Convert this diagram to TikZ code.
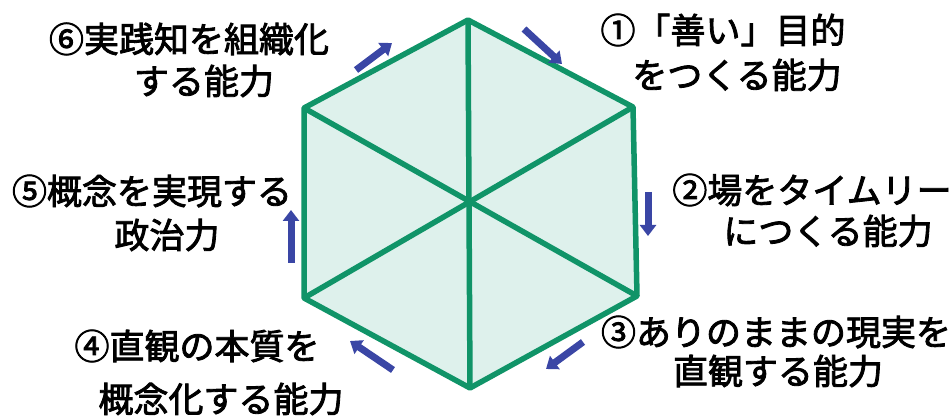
\documentclass[tikz,border=0pt]{standalone}
\usepackage{fontspec}
\newfontfamily\jp{Noto Sans CJK JP}[FakeBold=2.4]
\usetikzlibrary{arrows.meta}
\definecolor{hexgreen}{RGB}{16,148,104}
\definecolor{hexfill}{RGB}{222,241,236}
\definecolor{arrblue}{RGB}{58,70,165}
\tikzset{
  hexline/.style={draw=hexgreen,line width=5.5pt,line join=round},
  flowarrow/.style={draw=arrblue,line width=7pt,-{Triangle[length=11pt,width=16pt]}},
  lbl/.style={inner sep=0pt,anchor=center,font=\jp\fontsize{35}{38}\selectfont}
}
\begin{document}
\begin{tikzpicture}[x=1pt,y=-1pt]
\useasboundingbox (0,0) rectangle (952,419);
% hexagon vertices
\coordinate (T)  at (468,20);
\coordinate (UR) at (633,107);
\coordinate (LR) at (637,296);
\coordinate (B)  at (470,388);
\coordinate (LL) at (304,298);
\coordinate (UL) at (304,108);
\coordinate (C)  at (468,206);
\fill[hexfill] (T) -- (UR) -- (LR) -- (B) -- (LL) -- (UL) -- cycle;
\draw[hexline] (UL) -- (LR);
\draw[hexline] (UR) -- (LL);
\draw[hexline] (T) -- (B);
\draw[hexline] (T) -- (UR) -- (LR) -- (B) -- (LL) -- (UL) -- cycle;
% arrows
\coordinate (a1s) at (356,70);  \coordinate (a1e) at (392,43);
\coordinate (a2s) at (524,29);  \coordinate (a2e) at (562,64);
\coordinate (a3s) at (648,192); \coordinate (a3e) at (648,236);
\coordinate (a4s) at (583,342); \coordinate (a4e) at (546,369);
\coordinate (a5s) at (393,370); \coordinate (a5e) at (350,341);
\coordinate (a6s) at (291,263); \coordinate (a6e) at (291,210);
\draw[flowarrow] (a1s) -- (a1e);
\draw[flowarrow] (a2s) -- (a2e);
\draw[flowarrow] (a3s) -- (a3e);
\draw[flowarrow] (a4s) -- (a4e);
\draw[flowarrow] (a5s) -- (a5e);
\draw[flowarrow] (a6s) -- (a6e);
% labels
\node[lbl] (l6a) at (189,39)  {⑥実践知を組織化};
\node[lbl] (l6b) at (204,81)  {する能力};
\node[lbl] (l1a) at (723,30)  {①「善い」目的};
\node[lbl] (l1b) at (737,75)  {をつくる能力};
\node[lbl] (l2a) at (812,190) {②場をタイムリー};
\node[lbl] (l2b) at (828,231) {につくる能力};
\node[lbl] (l5a) at (152,191) {⑤概念を実現する};
\node[lbl] (l5b) at (167,235) {政治力};
\node[lbl] (l3a) at (776,332) {③ありのままの現実を};
\node[lbl] (l3b) at (778,371) {直観する能力};
\node[lbl] (l4a) at (197,346) {④直観の本質を};
\node[lbl] (l4b) at (221,399) {概念化する能力};
\end{tikzpicture}
\end{document}
